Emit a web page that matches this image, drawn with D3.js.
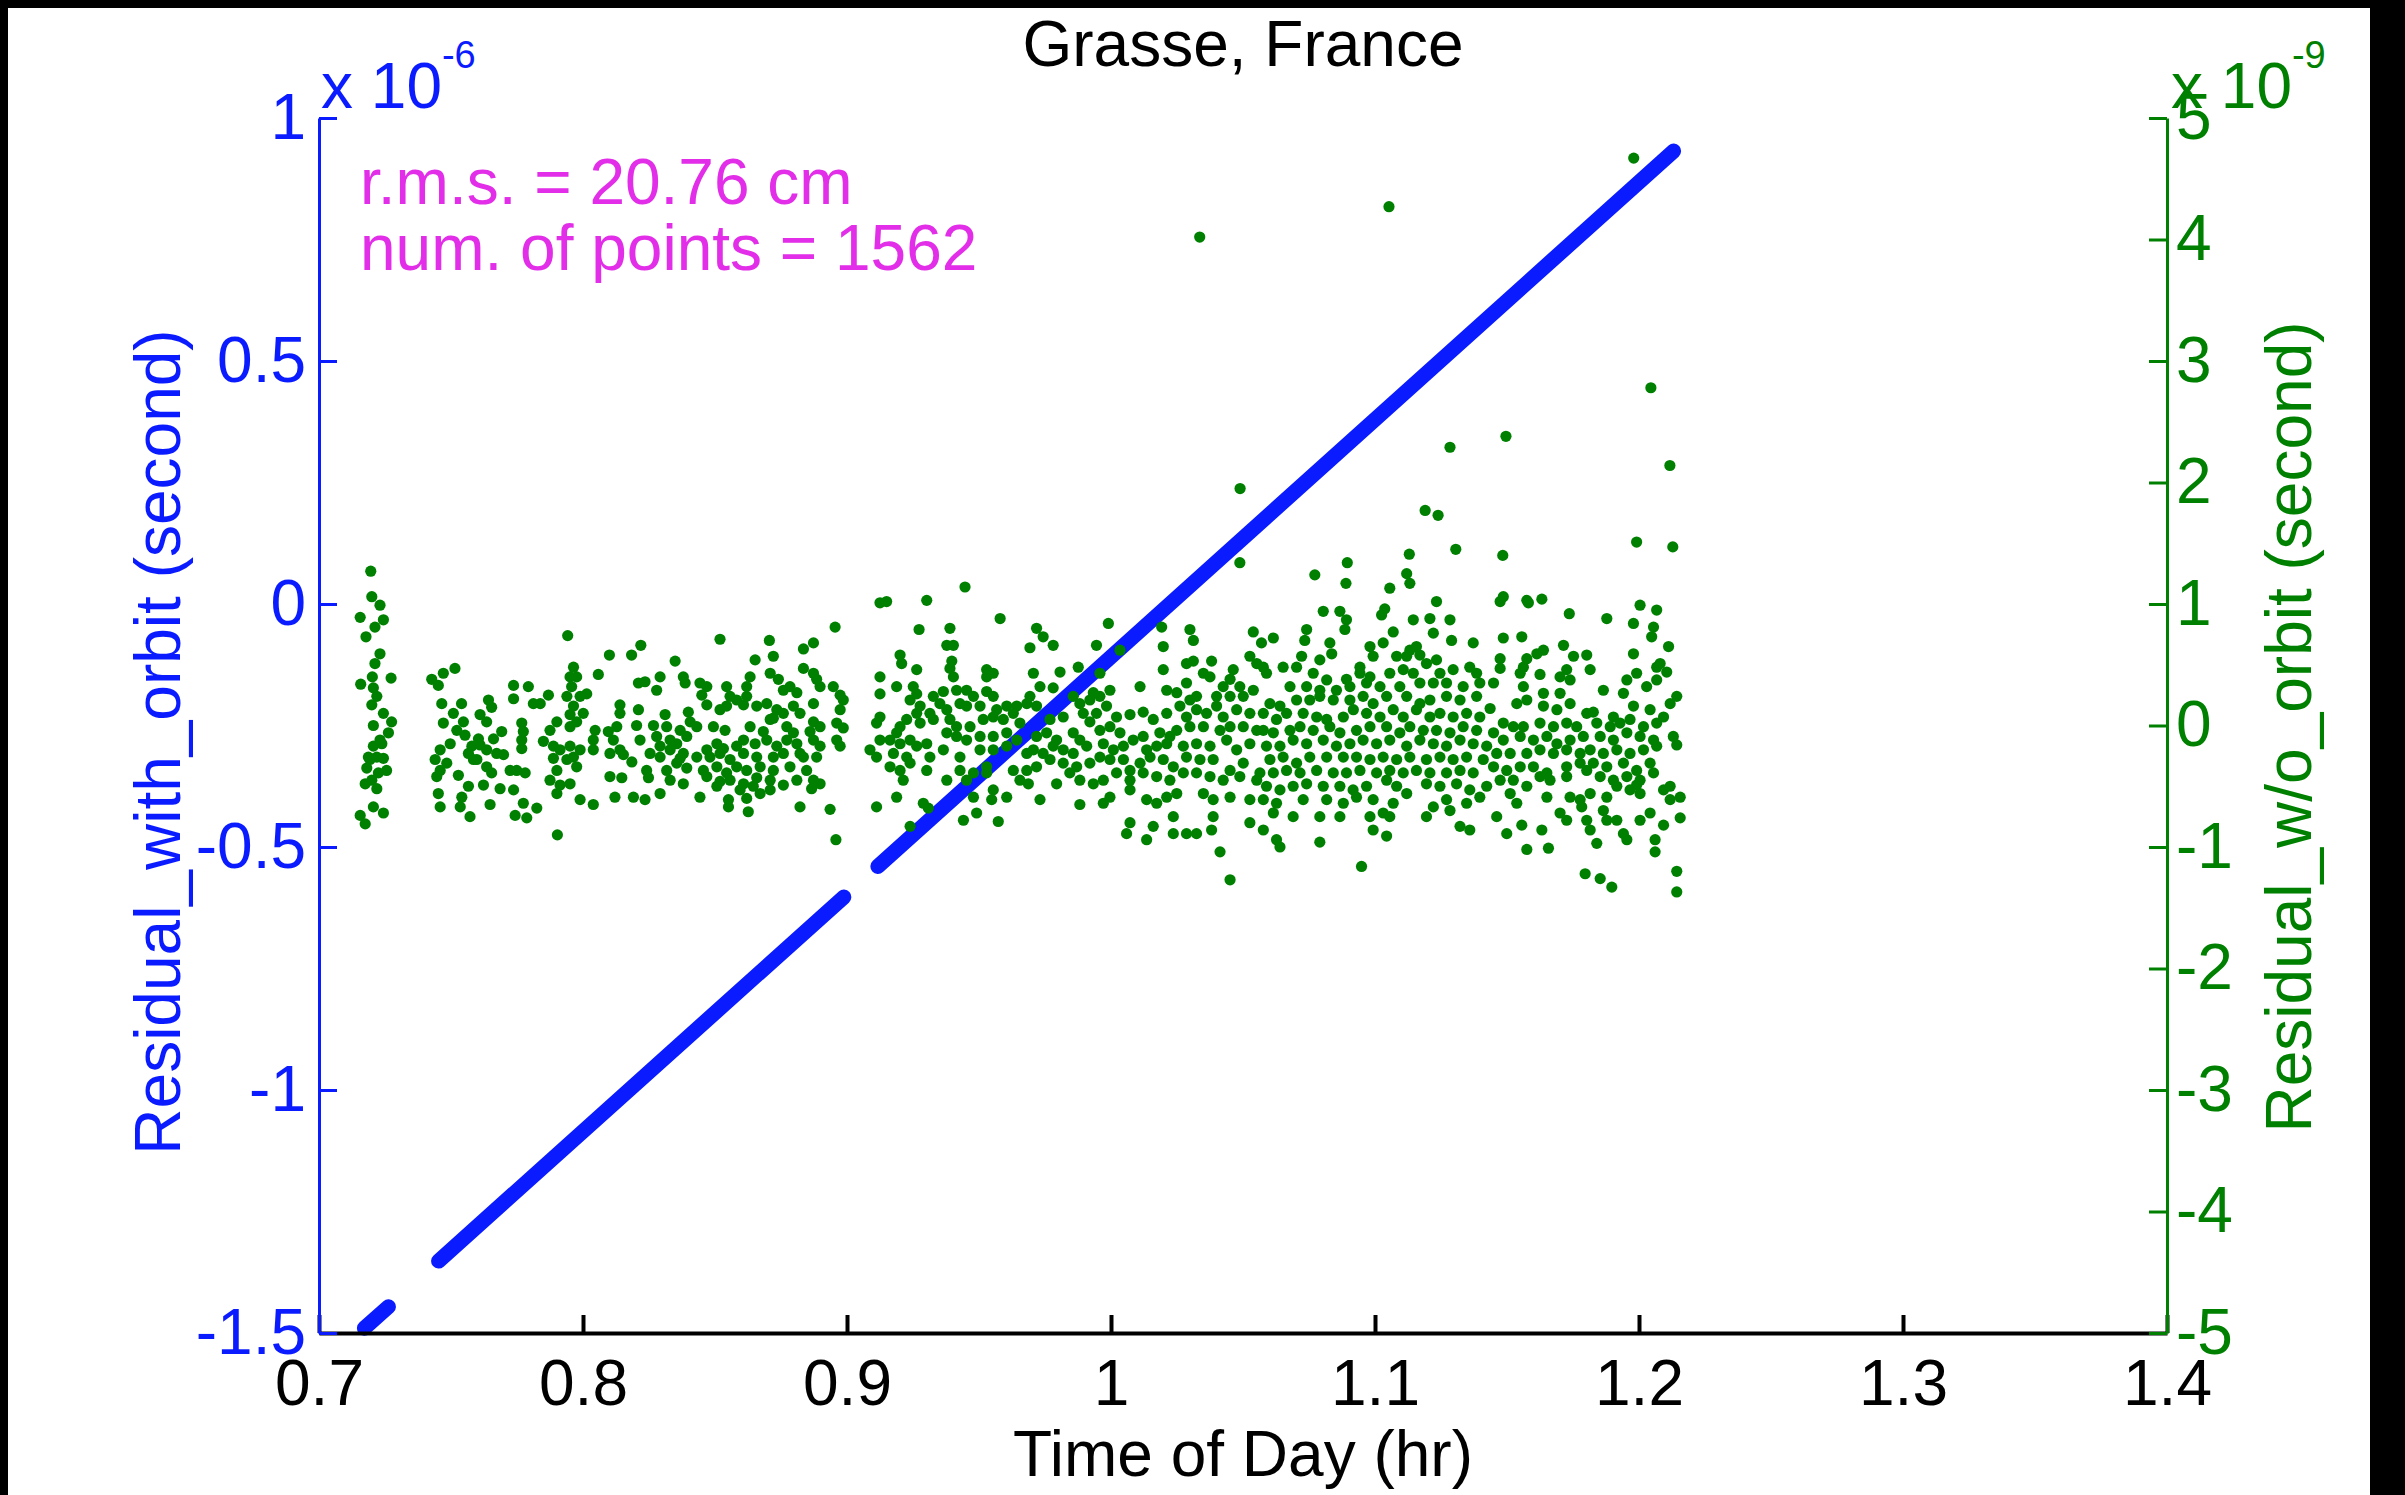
<!DOCTYPE html>
<html><head><meta charset="utf-8">
<script src="https://cdn.jsdelivr.net/npm/d3@7"></script>
<style>html,body{margin:0;padding:0;background:#000;}svg{display:block;}</style>
</head><body>
<svg id="chart" width="2405" height="1495"></svg>
<script>
// ---------- data ----------
const title = "Grasse, France";
const xLabel = "Time of Day (hr)";
const yLeftLabel = "Residual_with_orbit (second)";
const yRightLabel = "Residual_w/o_orbit (second)";
const annotations = ["r.m.s. = 20.76 cm", "num. of points = 1562"];
const xTicks = [0.7, 0.8, 0.9, 1, 1.1, 1.2, 1.3, 1.4];
const yLeftTicks = [-1.5, -1, -0.5, 0, 0.5, 1];          // x 10^-6
const yRightTicks = [-5, -4, -3, -2, -1, 0, 1, 2, 3, 4, 5]; // x 10^-9
const leftExp = "-6", rightExp = "-9";

// blue series (residual with orbit, x1e-6 s): observed segment ends, null = gap
const blueT = [0.7172, 0.7263, null, 0.7453, 0.8988, null, 0.9117, 1.2131];
const blueV = [-1.490, -1.446, null, -1.352, -0.603, null, -0.540, 0.932];

// green series (residual w/o orbit, x1e-9 s): [time hr, value]
const greenPoints = [
[0.7196,1.27],[0.72,1.06],[0.7231,0.99],[0.7156,0.89],[0.7244,0.87],[0.7212,0.81],[0.7178,0.73],[0.7231,0.59],[0.7212,0.51],[0.7202,0.40],[0.7158,0.34],[0.7273,0.39],[0.7206,0.31],[0.7219,0.24],[0.72,0.17],[0.7244,0.10],[0.7275,0.03],[0.7206,0.00],[0.7263,-0.06],[0.7231,-0.12],[0.7206,-0.17],[0.7238,-0.15],[0.7187,-0.26],[0.7219,-0.26],[0.7181,-0.35],[0.7256,-0.37],[0.72,-0.45],[0.7219,-0.52],[0.7175,-0.48],[0.7206,-0.67],[0.7244,-0.72],[0.7156,-0.74],[0.7175,-0.81],[0.7193,-0.28],[0.7225,-0.39],[0.7244,-0.27],
[0.7515,0.47],[0.7471,0.43],[0.7427,0.38],[0.7452,0.33],[0.7465,0.18],[0.754,0.18],[0.7509,0.10],[0.7471,0.02],[0.7547,0.03],[0.7522,-0.04],[0.7553,-0.08],[0.7497,-0.15],[0.7579,-0.17],[0.7459,-0.20],[0.744,-0.28],[0.7566,-0.23],[0.7459,-0.37],[0.7484,-0.31],[0.7585,-0.28],[0.7446,-0.42],[0.7528,-0.41],[0.7566,-0.50],[0.7452,-0.56],[0.7541,-0.59],[0.7459,-0.67],[0.7535,-0.67],[0.7572,-0.75],
[0.7642,0.21],[0.7654,0.15],[0.761,0.09],[0.7635,0.03],[0.7692,-0.05],[0.7661,-0.11],[0.7604,-0.11],[0.761,-0.16],[0.7635,-0.20],[0.7598,-0.28],[0.7635,-0.34],[0.7673,-0.23],[0.7699,-0.24],[0.7654,-0.39],[0.7623,-0.49],[0.7686,-0.52],[0.7648,-0.65],[0.7737,0.33],[0.7793,0.32],[0.7737,0.22],[0.7768,0.02],[0.7774,-0.05],[0.7768,-0.12],[0.7768,-0.19],[0.7724,-0.37],[0.7749,-0.37],[0.7781,-0.39],[0.7737,-0.53],[0.7774,-0.64],[0.7825,-0.68],[0.7743,-0.74],[0.7787,-0.76],[0.7812,0.18],[0.7838,0.18],[0.7869,0.25],[0.785,-0.13],
[0.7942,0.74],[0.7951,0.40],[0.7939,0.24],[0.7951,0.09],[0.7901,0.03],[0.7951,-0.01],[0.7875,-0.04],[0.7888,-0.17],[0.7913,-0.20],[0.7951,-0.17],[0.7888,-0.27],[0.7939,-0.28],[0.7901,-0.37],[0.7875,-0.45],[0.7913,-0.49],[0.7951,-0.48],[0.7901,-0.56],[0.7903,-0.90],
[0.81,0.58],[0.8184,0.58],[0.8219,0.66],[0.8349,0.53],[0.8519,0.71],[0.8706,0.70],[0.8721,0.57],[0.8652,0.54],[0.8058,0.42],[0.7964,0.48],[0.7976,0.40],[0.7957,0.32],[0.8014,0.26],[0.7989,0.24],[0.821,0.35],[0.8235,0.36],[0.8292,0.40],[0.8279,0.29],[0.838,0.40],[0.8387,0.35],[0.8443,0.35],[0.8469,0.32],[0.845,0.25],[0.8544,0.32],[0.8557,0.24],[0.8633,0.40],[0.862,0.32],[0.8709,0.43],[0.874,0.38],[0.8759,0.29],[0.8784,0.32],[0.881,0.27],[0.862,0.24],
[0.7964,0.16],[0.8001,0.10],[0.814,0.17],[0.814,0.10],[0.821,0.13],[0.8311,0.09],[0.8399,0.11],[0.8469,0.17],[0.8519,0.13],[0.8544,0.16],[0.8582,0.21],[0.8608,0.17],[0.8658,0.16],[0.8696,0.18],[0.8734,0.13],[0.8759,0.10],[0.8721,0.06],[0.8709,0.05],[0.8797,0.16],[0.8822,0.10],
[0.7976,0.03],[0.8046,-0.04],[0.8096,-0.05],[0.8128,-0.01],[0.8203,0.00],[0.8267,0.00],[0.8317,-0.01],[0.8368,-0.04],[0.8406,0.03],[0.8431,-0.01],[0.8494,-0.01],[0.8538,-0.04],[0.8633,-0.01],[0.8683,-0.05],[0.8772,-0.01],[0.8797,-0.06],
[0.8039,-0.12],[0.8115,-0.12],[0.814,-0.20],[0.8216,-0.12],[0.8279,-0.09],[0.833,-0.12],[0.8355,-0.15],[0.8393,-0.09],[0.8292,-0.17],[0.833,-0.20],[0.838,-0.23],[0.8469,-0.20],[0.8507,-0.15],[0.8532,-0.19],[0.8582,-0.17],[0.8608,-0.12],[0.8652,-0.15],[0.8696,-0.12],[0.8734,-0.17],[0.8772,-0.12],[0.881,-0.15],[0.7989,-0.20],[0.8039,-0.20],[0.7964,-0.26],[0.8102,-0.23],[0.8153,-0.24],[0.8254,-0.23],[0.8292,-0.26],[0.8368,-0.27],[0.8431,-0.26],[0.8481,-0.26],[0.8519,-0.23],[0.8557,-0.28],[0.8608,-0.23],[0.8658,-0.26],[0.8721,-0.26],[0.8759,-0.23],[0.8822,-0.23],
[0.7976,-0.34],[0.8185,-0.30],[0.8241,-0.37],[0.8317,-0.37],[0.8355,-0.31],[0.8393,-0.35],[0.8456,-0.37],[0.8507,-0.34],[0.8544,-0.39],[0.8582,-0.34],[0.862,-0.37],[0.8671,-0.34],[0.8721,-0.37],[0.8784,-0.34],[0.8102,-0.42],[0.8147,-0.43],[0.8248,-0.43],[0.833,-0.45],[0.838,-0.48],[0.8469,-0.42],[0.8519,-0.46],[0.8557,-0.45],[0.8608,-0.48],[0.8658,-0.43],[0.8709,-0.45],[0.8759,-0.49],[0.881,-0.45],[0.8507,-0.50],[0.8595,-0.53],
[0.7989,-0.61],[0.8039,-0.65],[0.8121,-0.59],[0.8191,-0.59],[0.8235,-0.61],[0.8292,-0.56],[0.8443,-0.59],[0.8551,-0.61],[0.8551,-0.67],[0.862,-0.60],[0.8626,-0.71],[0.8671,-0.56],[0.8709,-0.53],[0.8645,-0.50],
[0.9447,1.14],[0.9125,1.01],[0.915,1.02],[0.9302,1.03],[0.958,0.88],[0.8955,0.81],[0.9273,0.79],[0.939,0.80],[0.8835,0.63],[0.8873,0.68],[0.9378,0.66],[0.9403,0.66],[0.9201,0.58],[0.9207,0.51],[0.9264,0.46],[0.9397,0.53],[0.939,0.47],[0.9529,0.46],[0.9554,0.43],[0.9529,0.40],[0.8835,0.47],[0.8873,0.43],[0.8885,0.38],[0.9125,0.40],[0.9403,0.40],
[0.8898,0.32],[0.8948,0.32],[0.8974,0.25],[0.9188,0.32],[0.9125,0.26],[0.9251,0.32],[0.9264,0.26],[0.9239,0.21],[0.9327,0.24],[0.9365,0.28],[0.9415,0.29],[0.9453,0.29],[0.9479,0.24],[0.9529,0.28],[0.9554,0.24],[0.8873,0.18],[0.8986,0.21],[0.8974,0.13],[0.9277,0.16],[0.9264,0.10],[0.9314,0.10],[0.9352,0.18],[0.9378,0.13],[0.9428,0.18],[0.9453,0.16],[0.9504,0.16],[0.9567,0.13],[0.9605,0.16],[0.9643,0.16],[0.9681,0.18],
[0.8873,0.03],[0.8898,-0.01],[0.886,-0.05],[0.8961,0.02],[0.8986,-0.02],[0.9125,0.07],[0.9112,0.02],[0.9201,-0.01],[0.9188,-0.06],[0.9226,0.05],[0.9277,0.02],[0.9327,0.05],[0.939,0.05],[0.9415,-0.01],[0.9466,-0.01],[0.9516,0.05],[0.9554,0.07],[0.9592,0.05],[0.963,0.10],[0.9655,0.02],
[0.8873,-0.12],[0.8898,-0.17],[0.8961,-0.12],[0.8974,-0.17],[0.9087,-0.20],[0.9125,-0.12],[0.9163,-0.12],[0.9201,-0.15],[0.9239,-0.12],[0.9302,-0.15],[0.9378,-0.06],[0.9415,-0.09],[0.9453,-0.12],[0.9504,-0.09],[0.9554,-0.09],[0.9605,-0.06],[0.9643,-0.12],[0.8835,-0.26],[0.8885,-0.26],[0.9112,-0.26],[0.9176,-0.23],[0.9226,-0.26],[0.9264,-0.17],[0.9314,-0.26],[0.9365,-0.20],[0.9428,-0.26],[0.9504,-0.20],[0.9554,-0.20],[0.9605,-0.17],[0.9681,-0.23],
[0.8847,-0.37],[0.9163,-0.34],[0.9201,-0.37],[0.9239,-0.31],[0.9302,-0.37],[0.9428,-0.37],[0.9479,-0.39],[0.9529,-0.34],[0.963,-0.37],[0.9681,-0.37],[0.8873,-0.45],[0.8898,-0.48],[0.8866,-0.52],[0.9213,-0.45],[0.9378,-0.45],[0.9453,-0.45],[0.9529,-0.39],[0.9655,-0.45],
[0.8822,-0.67],[0.8936,-0.69],[0.9188,-0.59],[0.9112,-0.67],[0.9289,-0.64],[0.9308,-0.68],[0.9479,-0.59],[0.9554,-0.53],[0.9548,-0.61],[0.9605,-0.59],[0.9687,-0.48],[0.8958,-0.94],[0.9239,-0.83],[0.9441,-0.78],[0.9491,-0.72],[0.9573,-0.79],
[1.0488,1.34],[0.999,0.84],[0.9718,0.80],[0.9743,0.73],[0.9781,0.66],[0.9693,0.64],[0.9945,0.66],[1.0034,0.62],[1.0192,0.81],[1.0198,0.65],[1.0299,0.79],[1.0312,0.70],[1.0539,0.77],[0.9876,0.48],[0.9807,0.44],[0.9706,0.43],[1.0198,0.46],[1.0286,0.51],[1.0312,0.53],[1.0381,0.53],[1.035,0.43],[1.0375,0.40],[1.0463,0.46],[1.0526,0.57],[1.0552,0.51],
[0.9731,0.32],[0.9781,0.31],[0.9958,0.43],[0.9933,0.27],[0.9996,0.29],[1.011,0.32],[1.0211,0.29],[1.0249,0.27],[1.0286,0.35],[1.0425,0.32],[1.0451,0.38],[1.0488,0.32],[1.0539,0.29],[0.9693,0.24],[0.9718,0.16],[0.9857,0.24],[0.9882,0.18],[0.992,0.21],[0.9958,0.24],[0.9983,0.16],[1.0299,0.21],[1.0324,0.24],[1.04,0.24],[1.0451,0.24],[1.0501,0.24],
[0.9769,0.05],[0.9819,0.07],[0.9895,0.10],[0.9945,0.10],[0.992,0.03],[1.0021,0.07],[1.0072,0.09],[1.0122,0.11],[1.016,0.05],[1.0211,0.10],[1.0261,0.16],[1.0286,0.07],[1.0324,0.13],[1.0362,0.10],[1.04,0.16],[1.0425,0.07],[1.0476,0.13],[1.0526,0.10],
[0.9718,-0.09],[0.9756,-0.06],[0.9794,-0.12],[0.9857,-0.06],[0.9882,-0.12],[0.9958,-0.04],[0.9996,-0.01],[1.0034,-0.06],[1.0122,-0.09],[1.0185,-0.06],[1.0223,-0.09],[1.0249,-0.04],[1.0299,-0.01],[1.035,-0.01],[1.0413,-0.04],[1.0451,-0.01],[1.0501,-0.01],[1.0552,-0.04],
[0.9706,-0.20],[0.9743,-0.23],[0.9781,-0.17],[0.9819,-0.20],[0.9857,-0.23],[0.9908,-0.17],[0.9971,-0.15],[1.0009,-0.20],[1.0047,-0.17],[1.0084,-0.12],[1.0135,-0.20],[1.0173,-0.17],[1.0211,-0.15],[1.0274,-0.17],[1.0324,-0.15],[1.0375,-0.17],[1.0438,-0.12],[1.0476,-0.20],[1.0526,-0.15],
[0.9718,-0.34],[0.9769,-0.28],[0.9819,-0.31],[0.987,-0.34],[0.992,-0.31],[0.9958,-0.26],[0.9996,-0.28],[1.0047,-0.28],[1.0072,-0.37],[1.011,-0.31],[1.0148,-0.26],[1.0198,-0.28],[1.0236,-0.34],[1.0286,-0.26],[1.0337,-0.28],[1.0387,-0.28],[1.0451,-0.37],[1.0501,-0.31],
[0.9794,-0.48],[0.9844,-0.39],[0.9882,-0.45],[0.9933,-0.48],[0.9971,-0.45],[1.0021,-0.39],[1.0072,-0.45],[1.0122,-0.39],[1.0173,-0.42],[1.0223,-0.45],[1.0274,-0.39],[1.0324,-0.39],[1.0375,-0.42],[1.0425,-0.45],[1.0488,-0.42],[1.0552,-0.45],
[0.9731,-0.61],[0.9882,-0.65],[0.9971,-0.64],[0.9996,-0.59],[1.0072,-0.53],[1.0135,-0.61],[1.0173,-0.64],[1.0211,-0.59],[1.0249,-0.56],[1.035,-0.56],[1.0387,-0.61],[1.0451,-0.59],[1.0526,-0.61],[1.0072,-0.80],[1.0135,-0.94],[1.0059,-0.89],[1.016,-0.83],[1.0236,-0.89],[1.0286,-0.89],[1.0324,-0.89],[1.0381,-0.86],[1.0387,-0.75],[1.0236,-0.75],[1.0413,-1.04],[1.0451,-1.27],[1.0526,-0.80],
[1.113,1.41],[1.1306,1.45],[1.0895,1.34],[1.0772,1.24],[1.089,1.17],[1.112,1.25],[1.1132,1.17],[1.1056,1.13],[1.1233,1.02],[1.0804,0.94],[1.0867,0.94],[1.1037,0.96],[1.1025,0.91],[1.0892,0.87],[1.0886,0.79],[1.1145,0.87],[1.1208,0.88],[1.1284,0.87],[1.1221,0.76],[1.1069,0.77],[1.0741,0.79],[1.0734,0.70],[1.0615,0.72],[1.057,0.68],[1.0829,0.68],[1.0836,0.59],[1.0981,0.65],[1.1031,0.68],[1.129,0.70],[1.1372,0.68],[1.1132,0.62],[1.1157,0.65],
[1.0722,0.57],[1.0791,0.54],[1.0703,0.48],[1.0943,0.48],[1.0993,0.57],[1.1082,0.57],[1.112,0.57],[1.117,0.58],[1.1195,0.51],[1.1233,0.54],[1.0652,0.48],[1.0577,0.48],[1.0589,0.43],[1.0766,0.43],[1.0817,0.375],[1.0892,0.38],[1.0943,0.43],[1.0981,0.40],[1.1056,0.43],[1.1107,0.46],[1.1145,0.43],[1.1246,0.43],[1.1296,0.46],[1.1359,0.48],[1.1385,0.43],
[1.0678,0.32],[1.0741,0.32],[1.0791,0.29],[1.0854,0.29],[1.0905,0.32],[1.0968,0.35],[1.1019,0.32],[1.1094,0.32],[1.117,0.35],[1.1221,0.35],[1.1271,0.35],[1.1334,0.32],[1.1397,0.35],[1.0602,0.18],[1.0577,0.10],[1.064,0.16],[1.0703,0.21],[1.0753,0.21],[1.0791,0.24],[1.0842,0.21],[1.0905,0.21],[1.0955,0.24],[1.0993,0.18],[1.1044,0.24],[1.112,0.24],[1.117,0.18],[1.1208,0.21],[1.1271,0.24],[1.1322,0.21],[1.1385,0.24],
[1.0627,0.05],[1.0665,0.10],[1.0728,0.10],[1.0779,0.07],[1.0817,0.05],[1.088,0.07],[1.0918,0.13],[1.0968,0.10],[1.1019,0.07],[1.1069,0.13],[1.1107,0.07],[1.1157,0.13],[1.1208,0.07],[1.1246,0.10],[1.1296,0.07],[1.1347,0.10],[1.1397,0.07],
[1.0577,-0.04],[1.0615,-0.06],[1.0678,-0.04],[1.0716,-0.01],[1.0766,-0.04],[1.0829,-0.01],[1.0867,-0.06],[1.093,-0.04],[1.0981,-0.01],[1.1044,-0.01],[1.1094,-0.06],[1.1132,-0.01],[1.1183,-0.04],[1.1233,-0.04],[1.1284,-0.06],[1.1334,-0.01],[1.1385,-0.04],
[1.0589,-0.17],[1.064,-0.17],[1.069,-0.12],[1.0741,-0.15],[1.0804,-0.12],[1.0854,-0.17],[1.0905,-0.15],[1.0955,-0.12],[1.1006,-0.15],[1.1056,-0.12],[1.112,-0.17],[1.117,-0.12],[1.1221,-0.15],[1.1271,-0.17],[1.1322,-0.12],[1.1372,-0.15],[1.1423,-0.17],
[1.0602,-0.28],[1.0652,-0.26],[1.0703,-0.31],[1.0753,-0.26],[1.0817,-0.26],[1.088,-0.26],[1.093,-0.26],[1.0981,-0.28],[1.1031,-0.26],[1.1082,-0.28],[1.1132,-0.26],[1.1195,-0.28],[1.1246,-0.26],[1.1296,-0.28],[1.1347,-0.26],[1.141,-0.28],
[1.0564,-0.39],[1.0615,-0.39],[1.0665,-0.37],[1.0716,-0.39],[1.0779,-0.37],[1.0842,-0.39],[1.0892,-0.39],[1.0943,-0.37],[1.1006,-0.39],[1.1056,-0.37],[1.1107,-0.39],[1.1157,-0.37],[1.1208,-0.39],[1.1271,-0.39],[1.1322,-0.37],[1.1372,-0.39],
[1.0589,-0.50],[1.064,-0.53],[1.069,-0.50],[1.0741,-0.48],[1.0804,-0.50],[1.0867,-0.50],[1.0917,-0.53],[1.0968,-0.50],[1.1044,-0.45],[1.1082,-0.50],[1.112,-0.56],[1.1195,-0.48],[1.1246,-0.50],[1.1309,-0.48],[1.1359,-0.53],[1.1423,-0.50],
[1.0577,-0.61],[1.0627,-0.64],[1.0728,-0.61],[1.0817,-0.61],[1.088,-0.64],[1.093,-0.59],[1.0993,-0.61],[1.1069,-0.64],[1.1221,-0.67],[1.1271,-0.61],[1.1347,-0.64],[1.1397,-0.59],[1.0615,-0.72],[1.069,-0.75],[1.0791,-0.75],[1.0867,-0.75],[1.0981,-0.75],[1.1031,-0.72],[1.1056,-0.75],[1.1195,-0.75],[1.1284,-0.70],[1.1322,-0.83],[1.1359,-0.86],[1.0577,-0.86],[1.0627,-0.94],[1.064,-1.00],[1.0791,-0.96],[1.0993,-0.86],[1.1044,-0.91],[1.0949,-1.16],
[1.1484,1.40],[1.1991,1.51],[1.2128,1.47],[1.1474,1.02],[1.1486,1.06],[1.1575,1.03],[1.1581,1.01],[1.1632,1.04],[1.1736,0.92],[1.1878,0.88],[1.2004,0.99],[1.2067,0.95],[1.1979,0.84],[1.2055,0.81],[1.2048,0.73],[1.1486,0.72],[1.1556,0.73],[1.1714,0.66],[1.1802,0.58],[1.1752,0.57],[1.1638,0.62],[1.1613,0.59],[1.1575,0.55],[1.1474,0.55],
[1.1474,0.47],[1.1562,0.48],[1.155,0.43],[1.1625,0.42],[1.1726,0.46],[1.1701,0.40],[1.1739,0.375],[1.1815,0.46],[1.1979,0.59],[1.2112,0.65],[1.208,0.51],[1.2067,0.48],[1.2105,0.44],[1.1991,0.43],[1.1954,0.375],[1.2067,0.375],[1.2029,0.32],[1.1865,0.29],[1.1941,0.265],[1.2143,0.24],[1.2118,0.18],[1.1449,0.35],[1.1562,0.32],[1.1638,0.265],[1.1701,0.265],
[1.1537,0.18],[1.1575,0.21],[1.1638,0.16],[1.1689,0.13],[1.1739,0.18],[1.1802,0.10],[1.1827,0.11],[1.1903,0.07],[1.1979,0.16],[1.2042,0.13],[1.2093,0.07],[1.1436,0.14],
[1.1486,0.02],[1.1524,-0.01],[1.1562,-0.01],[1.1625,0.02],[1.1676,-0.01],[1.1726,0.02],[1.1764,-0.01],[1.184,0.02],[1.1891,-0.01],[1.1928,0.02],[1.1966,0.05],[1.2017,-0.01],[1.2067,0.02],
[1.1449,-0.06],[1.1486,-0.12],[1.155,-0.09],[1.16,-0.12],[1.1651,-0.09],[1.1689,-0.15],[1.1739,-0.12],[1.1789,-0.09],[1.1853,-0.09],[1.1903,-0.12],[1.1954,-0.06],[1.2004,-0.09],[1.2055,-0.12],[1.213,-0.09],[1.2143,-0.16],
[1.1461,-0.23],[1.1512,-0.23],[1.1575,-0.23],[1.1625,-0.20],[1.1676,-0.23],[1.1726,-0.20],[1.1777,-0.23],[1.1815,-0.20],[1.1865,-0.23],[1.1916,-0.20],[1.1966,-0.23],[1.2017,-0.20],[1.2067,-0.17],
[1.1449,-0.34],[1.1499,-0.37],[1.155,-0.34],[1.16,-0.34],[1.1651,-0.39],[1.1726,-0.34],[1.1777,-0.31],[1.1827,-0.31],[1.1878,-0.34],[1.1941,-0.31],[1.1991,-0.37],[1.2042,-0.31],
[1.1474,-0.45],[1.1524,-0.45],[1.1575,-0.50],[1.1625,-0.42],[1.1663,-0.45],[1.1726,-0.42],[1.1802,-0.37],[1.1853,-0.42],[1.1903,-0.45],[1.1954,-0.42],[1.2004,-0.45],[1.2055,-0.39],[1.2093,-0.53],[1.2118,-0.50],[1.2156,-0.59],
[1.1512,-0.56],[1.1537,-0.64],[1.1651,-0.59],[1.1739,-0.59],[1.1777,-0.61],[1.1815,-0.56],[1.1878,-0.59],[1.1916,-0.50],[1.1966,-0.53],[1.2004,-0.56],[1.1991,-0.49],
[1.1461,-0.75],[1.1499,-0.89],[1.1556,-0.82],[1.1632,-0.86],[1.1701,-0.72],[1.1726,-0.78],[1.1783,-0.67],[1.1802,-0.78],[1.1865,-0.70],[1.1878,-0.78],[1.1916,-0.78],[1.1941,-0.89],[1.1954,-0.94],[1.2004,-0.78],[1.2042,-0.72],[1.2093,-0.82],[1.2156,-0.76],[1.2118,-0.61],
[1.1575,-1.02],[1.1657,-1.01],[1.1815,-0.86],[1.184,-0.97],[1.2061,-0.94],[1.2061,-1.04],[1.1796,-1.22],[1.1853,-1.26],[1.1897,-1.33],[1.2143,-1.20],[1.2143,-1.37],
[1.198,4.67],[1.1053,4.27],[1.0336,4.02],[1.2045,2.78],[1.1496,2.38],[1.1284,2.29],[1.2117,2.14],[1.0489,1.95],[1.119,1.77],[1.1239,1.73]
];

// ---------- drawing ----------
const W = 2405, H = 1495;
const FONT = "'Liberation Sans', Arial, Helvetica, sans-serif";
const BLUE = "#0a1cff", GREEN = "#008000", MAGENTA = "#e22ee8";
const svg = d3.select("#chart");

svg.append("rect").attr("x", 0).attr("y", 0).attr("width", W).attr("height", H).attr("fill", "#000");
svg.append("rect").attr("x", 8).attr("y", 8).attr("width", 2362).attr("height", H - 8).attr("fill", "#fff");

const x = d3.scaleLinear().domain([0.7, 1.4]).range([319, 2167]);
const yL = d3.scaleLinear().domain([-1.5, 1]).range([1333, 118]);
const yR = d3.scaleLinear().domain([-5, 5]).range([1333, 118]);

// blue series
const blueData = blueT.map((t, i) => ({t: t, v: blueV[i]}));
svg.append("path")
  .datum(blueData)
  .attr("fill", "none")
  .attr("stroke", BLUE)
  .attr("stroke-width", 15)
  .attr("stroke-linecap", "round")
  .attr("d", d3.line().defined(d => d.t !== null).x(d => x(d.t)).y(d => yL(d.v)));

// green series
svg.append("g").selectAll("circle").data(greenPoints).join("circle")
  .attr("cx", d => x(d[0]))
  .attr("cy", d => yR(d[1]))
  .attr("r", 5.6)
  .attr("fill", GREEN);

// axes
function styleAxis(g, color, width) {
  g.select(".domain").attr("stroke", color).attr("stroke-width", width);
  g.selectAll(".tick line").attr("stroke", color).attr("stroke-width", width);
  g.selectAll(".tick text").attr("fill", color).style("font-family", FONT).style("font-size", "64px");
}
const fmt = d => String(d);

const gx = svg.append("g").attr("transform", "translate(0,1333)")
  .call(d3.axisBottom(x).tickValues(xTicks).tickFormat(fmt).tickSizeInner(-18).tickSizeOuter(0).tickPadding(27));
styleAxis(gx, "#000", 4);

const gl = svg.append("g").attr("transform", "translate(319,0)")
  .call(d3.axisLeft(yL).tickValues(yLeftTicks).tickFormat(fmt).tickSizeInner(-18).tickSizeOuter(0).tickPadding(13));
styleAxis(gl, BLUE, 3);

const gr = svg.append("g").attr("transform", "translate(2167,0)")
  .call(d3.axisRight(yR).tickValues(yRightTicks).tickFormat(fmt).tickSizeInner(-18).tickSizeOuter(0).tickPadding(9));
styleAxis(gr, GREEN, 3);

// exponent labels
function expLabel(xp, color, exp) {
  const t = svg.append("text").attr("x", xp).attr("y", 108).attr("fill", color)
    .style("font-family", FONT).style("font-size", "64px");
  t.append("tspan").text("x 10");
  t.append("tspan").attr("dy", -40).style("font-size", "38px").text(exp);
}
expLabel(321, BLUE, leftExp);
expLabel(2171, GREEN, rightExp);

// title and axis labels
svg.append("text").attr("x", 1243).attr("y", 66).attr("text-anchor", "middle")
  .style("font-family", FONT).style("font-size", "64px").attr("fill", "#000").text(title);
svg.append("text").attr("x", 1243).attr("y", 1476).attr("text-anchor", "middle")
  .style("font-family", FONT).style("font-size", "64px").attr("fill", "#000").text(xLabel);
svg.append("text").attr("transform", "translate(180,742) rotate(-90)").attr("text-anchor", "middle")
  .style("font-family", FONT).style("font-size", "64px").attr("fill", BLUE).text(yLeftLabel);
svg.append("text").attr("transform", "translate(2311,727) rotate(-90)").attr("text-anchor", "middle")
  .style("font-family", FONT).style("font-size", "64px").attr("fill", GREEN).text(yRightLabel);

// annotations
annotations.forEach((s, i) => {
  svg.append("text").attr("x", 360).attr("y", 204 + i * 66).attr("fill", MAGENTA)
    .style("font-family", FONT).style("font-size", "64px").text(s);
});
</script>
</body></html>
